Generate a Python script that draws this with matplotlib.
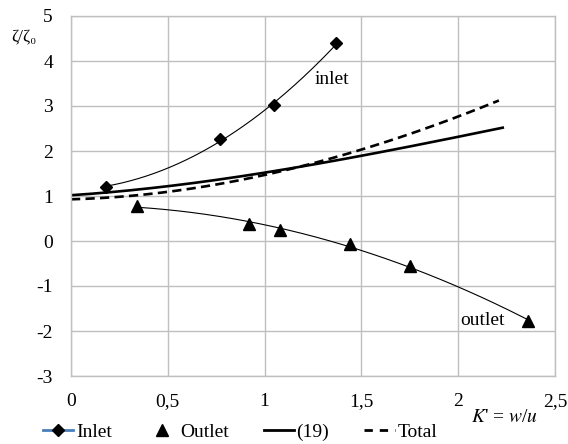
import numpy as np
import matplotlib
matplotlib.use("Agg")
import matplotlib.pyplot as plt
from matplotlib.lines import Line2D
from matplotlib.ticker import FuncFormatter

# data
inlet_x = [0.18, 0.77, 1.05, 1.37]
inlet_y = [1.21, 2.26, 3.02, 4.39]
outlet_x = [0.34, 0.92, 1.08, 1.44, 1.75, 2.36]
outlet_y = [0.78, 0.37, 0.25, -0.07, -0.56, -1.77]
eq19_x = [0, 0.5, 0.75, 1.0, 1.5, 1.75, 2.0, 2.23]
eq19_y = [1.02, 1.21, 1.36, 1.52, 1.9, 2.11, 2.29, 2.53]
total_x = [0, 0.5, 0.75, 1.0, 1.5, 1.75, 2.0, 2.21]
total_y = [0.93, 1.08, 1.26, 1.47, 2.05, 2.36, 2.76, 3.13]
xticks = [0, 0.5, 1, 1.5, 2, 2.5]
xtick_labels = ["0", "0,5", "1", "1,5", "2", "2,5"]
yticks = [-3, -2, -1, 0, 1, 2, 3, 4, 5]

plt.rcParams['font.family'] = ['Liberation Serif', 'DejaVu Serif']
fig = plt.figure(figsize=(5.68, 4.44), dpi=100)
ax = fig.add_axes([71/568, 1-376/444, (555-71)/568, (376-16)/444])


def smooth(xs, ys, deg):
    c = np.polyfit(xs, ys, deg)
    xx = np.linspace(min(xs), max(xs), 200)
    return xx, np.polyval(c, xx)


# trend lines (fit through the measured points)
ax.plot(*smooth(inlet_x, inlet_y, 2), color='black', lw=0.8)
ax.plot(*smooth(outlet_x, outlet_y, 2), color='black', lw=0.8)

ax.plot(inlet_x, inlet_y, linestyle='none', marker='D', ms=6.5, color='black')
ax.plot(outlet_x, outlet_y, linestyle='none', marker='^', ms=8, color='black')
ax.plot(*smooth(eq19_x, eq19_y, 3), color='black', lw=1.9)
ax.plot(*smooth(total_x, total_y, 3), color='black', lw=1.9, ls=(0, (3.5, 2)))

ax.set_xlim(0, 2.5)
ax.set_ylim(-3, 5)
ax.set_xticks(xticks)
ax.set_xticklabels(xtick_labels)
ax.set_yticks(yticks)
ax.yaxis.set_major_formatter(FuncFormatter(lambda v, p: "%d" % v))
ax.grid(True, color='#bfbfbf', lw=1)
for s in ax.spines.values():
    s.set_color('#bfbfbf')
    s.set_linewidth(1)
ax.tick_params(axis='x', length=0, labelsize=14, pad=12)
ax.tick_params(axis='y', length=0, labelsize=14, pad=13)
ax.set_axisbelow(True)

ax.text(1.26, 3.58, "inlet", fontsize=14, va='center')
ax.text(2.01, -1.77, "outlet", fontsize=14, va='center')
fig.text(24/568, 1-36/444, "ζ/ζ₀", fontsize=12.5, ha='center', va='center')
fig.text(504/568, 1-417/444, "$K$' = $w$/$u$", fontsize=14, ha='center', va='center',
         math_fontfamily='stix')

handles = [
    Line2D([], [], color='#4a7ebb', lw=2, marker='D', ms=6.5, markerfacecolor='black', markeredgecolor='black'),
    Line2D([], [], linestyle='none', marker='^', ms=8, color='black'),
    Line2D([], [], color='black', lw=2),
    Line2D([], [], color='black', lw=2, ls=(0, (3, 2.5))),
]
fig.legend(handles, ["Inlet", "Outlet", "(19)", "Total"], loc='center',
           bbox_to_anchor=(240/568, 1-432/444), ncol=4, frameon=False,
           fontsize=14, handlelength=1.55, columnspacing=1.8, handletextpad=0.15,
           borderpad=0, borderaxespad=0)

fig.savefig("out.png", dpi=100)
